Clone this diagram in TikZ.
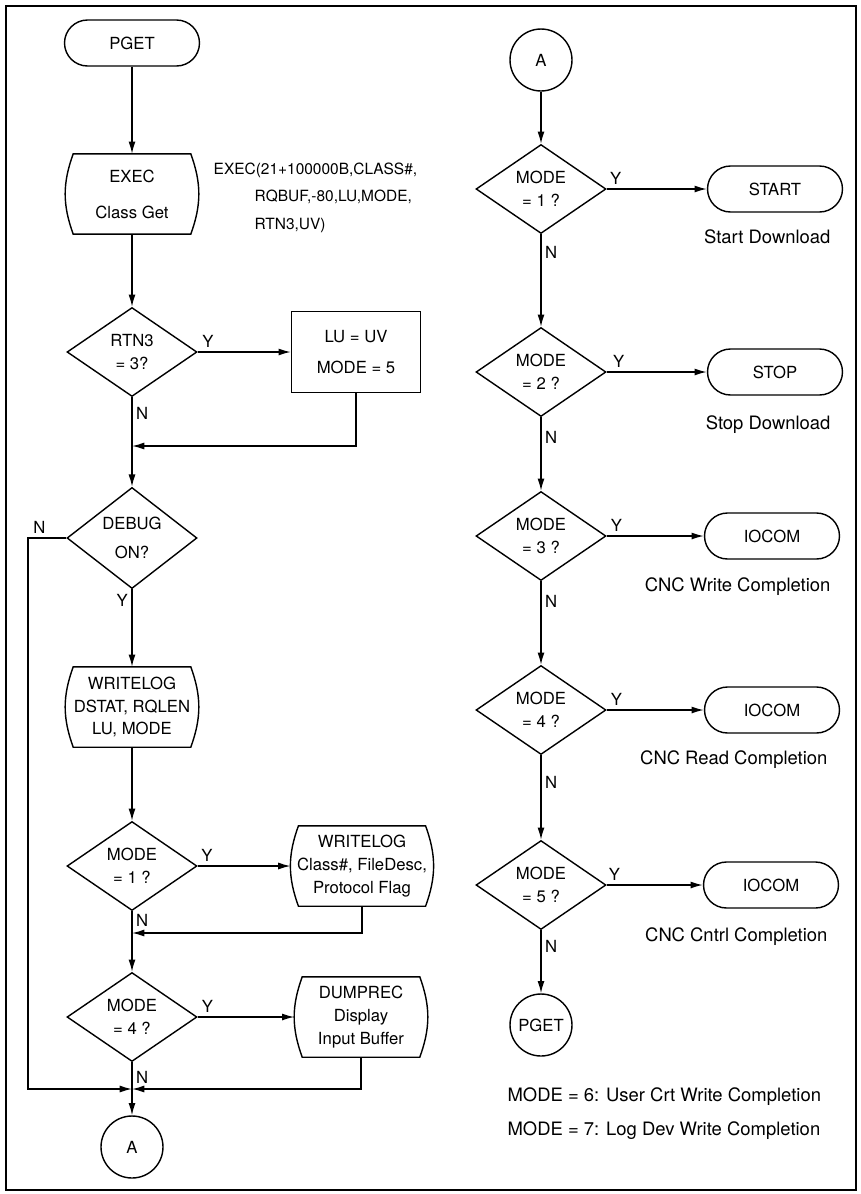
\documentclass[tikz,border=0pt]{standalone}
\usepackage{fontspec}
\setmainfont{TeX Gyre Heros}
\usetikzlibrary{shapes, arrows.meta, positioning, calc}

\tikzset{
    term/.style={rectangle, rounded corners=0.46cm, draw, minimum width=2.7cm, minimum height=0.92cm},
    decide/.style={diamond, draw, minimum width=2.6cm, minimum height=1.78cm, inner sep=0pt, align=center},
    proc/.style={rectangle, draw, minimum width=2.58cm, minimum height=1.62cm, align=center},
    disp/.style={rectangle, minimum width=2.64cm, minimum height=1.58cm, align=center},
    conn/.style={circle, draw, minimum size=1.24cm, inner sep=1pt},
    lbl/.style={inner sep=2pt},
    caption/.style={font=\fontsize{10.5}{13}\selectfont, anchor=east}
}

\begin{document}
\begin{tikzpicture}[x=0.02cm, y=-0.02cm, >={Latex[length=7pt,width=4pt]}, line width=0.8pt, font=\fontsize{9.5}{13}\selectfont]
    \useasboundingbox (0,0) rectangle (861,1194);
    % Frame
    \draw[line width=1.5pt] (6,6) rectangle (856,1190);

    % Left column
    \node[term] (pget) at (132,43) {PGET};
    \node[disp] (exec) at (132,194) {EXEC\\[7.5pt]Class Get};
    \node[anchor=north west, inner sep=0pt, align=left, font=\fontsize{8.8}{15.6}\selectfont] (call) at (213,162)
        {EXEC(21+100000B,CLASS\#,\\ \hspace*{0.82cm}RQBUF,-80,LU,MODE,\\ \hspace*{0.82cm}RTN3,UV)};
    \node[decide] (rtn) at (132,352) {RTN3\\= 3?};
    \node[proc] (luuv) at (356,352) {LU = UV\\[5pt]MODE = 5};
    \coordinate (merge1) at (132,446);
    \node[decide] (debug) at (132,538) {DEBUG\\[3.5pt]ON?};
    \node[disp] (wlog) at (132,707) {WRITELOG\\DSTAT, RQLEN\\LU, MODE};
    \node[decide] (mode1) at (132,866) {MODE\\= 1 ?};
    \node[disp] (wlog2) at (362,866) {WRITELOG\\Class\#, FileDesc,\\Protocol Flag};
    \coordinate (merge2) at (132,933);
    \node[decide] (mode4) at (132,1017) {MODE\\= 4 ?};
    \node[disp] (dump) at (361,1017) {DUMPREC\\Display\\Input Buffer};
    \coordinate (merge3) at (132,1089);
    \node[conn] (conA) at (132,1147) {A};
    \coordinate (lft1) at (28,538);
    \coordinate (lft2) at (28,1089);

    % Curved sides of the display boxes
    \foreach \n in {exec, wlog, wlog2, dump}
        \draw ([xshift=4.5pt]\n.north west) to[bend right=20] ([xshift=4.5pt]\n.south west)
            -- ([xshift=-4.5pt]\n.south east) to[bend right=20] ([xshift=-4.5pt]\n.north east) -- cycle;

    \draw[->] (pget) -- (exec);
    \draw[->] (exec) -- (rtn);
    \draw[->] (rtn) -- node[lbl, pos=0.11, above] {Y} (luuv);
    \draw (rtn) -- node[lbl, pos=0.34, right] {N} (merge1);
    \draw[->] (luuv.south) |- (merge1);
    \draw[->] (merge1) -- (debug);
    \draw[->] (debug.west) -- node[lbl, pos=0.7, above] {N} (lft1) -- (lft2) -- (merge3);
    \draw[->] (debug) -- node[lbl, pos=0.15, left] {Y} (wlog);
    \draw[->] (wlog) -- (mode1);
    \draw[->] (mode1) -- node[lbl, pos=0.1, above] {Y} (wlog2);
    \draw (mode1) -- node[lbl, pos=0.4, right] {N} (merge2);
    \draw[->] (wlog2.south) |- (merge2);
    \draw[->] (merge2) -- (mode4);
    \draw[->] (mode4) -- node[lbl, pos=0.1, above] {Y} (dump);
    \draw[->] (mode4) -- node[lbl, pos=0.28, right] {N} (conA);
    \draw[->] (dump.south) |- (merge3);

    % Right column
    \node[conn] (conA2) at (541,60) {A};
    \node[decide] (m1) at (541,189) {MODE\\= 1 ?};
    \node[term] (start) at (775,189) {START};
    \node[caption] at (837,237) {Start Download};
    \node[decide] (m2) at (541,372) {MODE\\= 2 ?};
    \node[term] (stop) at (775,372) {STOP};
    \node[caption] at (837,425) {Stop Download};
    \node[decide] (m3) at (541,536) {MODE\\= 3 ?};
    \node[term] (io1) at (772,536) {IOCOM};
    \node[caption] at (837,587) {CNC Write Completion};
    \node[decide] (m4) at (541,710) {MODE\\= 4 ?};
    \node[term] (io2) at (772,710) {IOCOM};
    \node[caption] at (834,760) {CNC Read Completion};
    \node[decide] (m5) at (541,885) {MODE\\= 5 ?};
    \node[term] (io3) at (771,885) {IOCOM};
    \node[caption] at (834,937) {CNC Cntrl Completion};
    \node[conn] (pget2) at (541,1025) {PGET};
    \node[caption, anchor=west] at (501,1097) {MODE = 6: User Crt Write Completion};
    \node[caption, anchor=west] at (501,1131) {MODE = 7: Log Dev Write Completion};

    \draw[->] (conA2) -- (m1);
    \draw[->] (m1) -- node[lbl, pos=0.09, above] {Y} (start);
    \draw[->] (m1) -- node[lbl, pos=0.2, right] {N} (m2);
    \draw[->] (m2) -- node[lbl, pos=0.12, above] {Y} (stop);
    \draw[->] (m2) -- node[lbl, pos=0.27, right] {N} (m3);
    \draw[->] (m3) -- node[lbl, pos=0.1, above] {Y} (io1);
    \draw[->] (m3) -- node[lbl, pos=0.24, right] {N} (m4);
    \draw[->] (m4) -- node[lbl, pos=0.1, above] {Y} (io2);
    \draw[->] (m4) -- node[lbl, pos=0.32, right] {N} (m5);
    \draw[->] (m5) -- node[lbl, pos=0.08, above] {Y} (io3);
    \draw[->] (m5) -- node[lbl, pos=0.25, right] {N} (pget2);
\end{tikzpicture}
\end{document}
